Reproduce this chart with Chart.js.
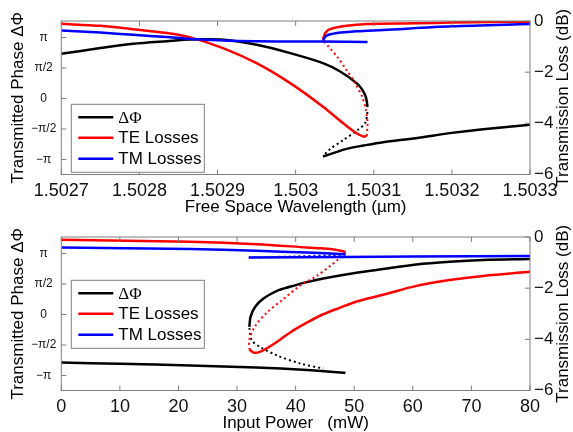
<!DOCTYPE html>
<html>
<head>
<meta charset="utf-8">
<script src="https://cdn.jsdelivr.net/npm/chart.js@4/dist/chart.umd.min.js"></script>
<style>
body { margin: 0; background: #fff; }
#wrap { position: relative; width: 573px; height: 432px; }
canvas { position: absolute; left: 0; }
</style>
</head>
<body>
<div id="wrap">
<canvas id="top" width="573" height="216" style="top:0"></canvas>
<canvas id="bottom" width="573" height="216" style="top:216px"></canvas>
</div>
<script>
// tick labels
const PHASE_TICKS = [-1, -0.5, 0, 0.5, 1];           // units of pi
const PHASE_LABELS = ['\u2212\u03c0', '\u2212\u03c0/2', '0', '\u03c0/2', '\u03c0'];
const LOSS_TICKS = [-6, -4, -2, 0];
const WL_TICKS = [1.5027, 1.5028, 1.5029, 1.503, 1.5031, 1.5032, 1.5033];
const POWER_TICKS = [0, 10, 20, 30, 40, 50, 60, 70, 80];
const LEGEND_LABELS = ['\u0394\u03a6', 'TE Losses', 'TM Losses'];

// ---- top panel: vs free space wavelength (um) ----
// phase (units of pi)
const wlPhiUpper = [1.5027, 1.50275, 1.502792, 1.502835, 1.502865, 1.502908, 1.50295, 1.502993, 1.503035, 1.503057, 1.503078, 1.503085, 1.50309, 1.503092];
const phiUpper   = [0.733, 0.826, 0.897, 0.94, 0.966, 0.962, 0.88, 0.744, 0.58, 0.443, 0.252, 0.15, 0.02, -0.14];
const wlPhiDot   = [1.503092, 1.503089, 1.50308, 1.503061, 1.503044, 1.503035];
const phiDot     = [-0.22, -0.40, -0.51, -0.68, -0.83, -0.94];
const wlPhiLower = [1.503035, 1.503048, 1.503065, 1.503087, 1.503112, 1.503154, 1.503197, 1.50324, 1.5033];
const phiLower   = [-0.95, -0.895, -0.825, -0.77, -0.715, -0.65, -0.567, -0.502, -0.43];
// TE losses (dB)
const wlTeMain  = [1.5027, 1.50275, 1.502792, 1.502835, 1.502865, 1.502907, 1.50295, 1.502993, 1.503035, 1.503061, 1.503078, 1.503087, 1.503091];
const teMain    = [-0.11, -0.19, -0.32, -0.47, -0.64, -1.06, -1.65, -2.43, -3.35, -4.0, -4.39, -4.52, -4.49];
const wlTeDot   = [1.503091, 1.503092, 1.50309, 1.503085, 1.503076, 1.503065, 1.503053, 1.503042, 1.503035];
const teDot     = [-4.49, -4.0, -3.48, -2.95, -2.43, -1.91, -1.39, -1.0, -0.76];
const wlTeUpper = [1.503035, 1.503038, 1.503044, 1.503065, 1.503091, 1.503154, 1.5032, 1.5033];
const teUpper   = [-0.71, -0.47, -0.32, -0.19, -0.12, -0.09, -0.06, -0.03];
// TM losses (dB)
const wlTmMain  = [1.5027, 1.50275, 1.502792, 1.502835, 1.502865, 1.502907, 1.50295, 1.503, 1.503035, 1.503092];
const tmMain    = [-0.37, -0.45, -0.54, -0.63, -0.70, -0.76, -0.79, -0.80, -0.80, -0.82];
const wlTmUpper = [1.503035, 1.503039, 1.503053, 1.503078, 1.503112, 1.5032, 1.5033];
const tmUpper   = [-0.76, -0.58, -0.47, -0.40, -0.35, -0.21, -0.12];

// ---- bottom panel: vs input power (mW) ----
const pPhiLower = [0, 10, 22, 33.3, 41.9, 48.5];
const phiLowerP = [-0.787, -0.807, -0.836, -0.869, -0.91, -0.956];
const pPhiDot   = [32.1, 32.5, 33.9, 36.8, 40.7, 44.7];
const phiDotP   = [-0.22, -0.42, -0.53, -0.67, -0.80, -0.885];
const pPhiUpper = [32.1, 32.3, 33.1, 34.5, 36.8, 39.0, 41.9, 44.7, 50.4, 54.9, 60.6, 66.3, 72.0, 80];
const phiUpperP = [-0.202, -0.038, 0.126, 0.262, 0.389, 0.454, 0.531, 0.59, 0.684, 0.744, 0.82, 0.864, 0.892, 0.908];
const pTeUpper  = [0, 22, 33.3, 41.9, 45.9, 48.1, 48.5];
const teUpperP  = [-0.11, -0.19, -0.28, -0.41, -0.47, -0.56, -0.61];
const pTeDot    = [48.5, 47.3, 45.9, 43.6, 40.7, 37.9, 35.1, 33.1, 32.1, 32.1];
const teDotP    = [-0.61, -0.87, -1.13, -1.52, -1.91, -2.43, -2.95, -3.48, -4.0, -4.39];
const pTeLower  = [32.1, 32.8, 33.9, 36.2, 39.0, 41.9, 44.7, 47.6, 50.4, 54.9, 60.6, 66.3, 72.0, 80];
const teLowerP  = [-4.39, -4.52, -4.49, -4.19, -3.74, -3.35, -3.02, -2.76, -2.52, -2.26, -1.91, -1.68, -1.52, -1.36];
const pTmUpper  = [0, 22, 33.3, 41.9, 48.5];
const tmUpperP  = [-0.41, -0.47, -0.54, -0.61, -0.67];
const pTmDot    = [48.5, 40, 32];
const tmDotP    = [-0.69, -0.76, -0.80];
const pTmLower  = [32.0, 48.5, 60, 80];
const tmLowerP  = [-0.80, -0.78, -0.76, -0.74];

Chart.defaults.font.family = '"Liberation Sans", Arial, sans-serif';
Chart.defaults.color = '#111';

const BLACK = '#000000', RED = '#ff0000', BLUE = '#0000ff';

function pts(xs, ys) {
    return xs.map((x, i) => ({ x: x, y: ys[i] }));
}

function line(xs, ys, color, axis, dotted, order) {
    return {
        data: pts(xs, ys),
        borderColor: color,
        borderWidth: dotted ? 2 : 2.5,
        borderDash: dotted ? [2, 3] : [],
        pointRadius: 0,
        tension: 0.3,
        yAxisID: axis,
        order: order,
        fill: false
    };
}

// box, inward ticks, right title and legend
const frame = {
    id: 'frame',
    afterDatasetsDraw(chart, args, opts) {
        const { ctx, chartArea: a, scales } = chart;
        const t = 5;
        ctx.save();
        ctx.strokeStyle = '#7f7f7f';
        ctx.lineWidth = 1;
        ctx.strokeRect(a.left, a.top, a.right - a.left, a.bottom - a.top);
        ctx.beginPath();
        scales.x.ticks.forEach(tk => {
            const px = scales.x.getPixelForValue(tk.value);
            ctx.moveTo(px, a.bottom); ctx.lineTo(px, a.bottom - t);
            ctx.moveTo(px, a.top); ctx.lineTo(px, a.top + t);
        });
        scales.y.ticks.forEach(tk => {
            const py = scales.y.getPixelForValue(tk.value);
            ctx.moveTo(a.left, py); ctx.lineTo(a.left + t, py);
        });
        scales.y1.ticks.forEach(tk => {
            const py = scales.y1.getPixelForValue(tk.value);
            ctx.moveTo(a.right, py); ctx.lineTo(a.right - t, py);
        });
        ctx.stroke();

        // right axis title, reading bottom to top
        ctx.fillStyle = '#000';
        ctx.font = '17px "Liberation Sans", Arial, sans-serif';
        ctx.textAlign = 'center';
        ctx.textBaseline = 'middle';
        ctx.translate(563, (a.top + a.bottom) / 2);
        ctx.rotate(-Math.PI / 2);
        ctx.fillText('Transmission Loss (dB)', 0, 0);
        ctx.restore();

        // legend
        const lx = a.left + opts.dx, ly = a.top + opts.dy, lw = 133, lh = 68;
        ctx.save();
        ctx.fillStyle = '#fff';
        ctx.fillRect(lx, ly, lw, lh);
        ctx.strokeStyle = '#7f7f7f';
        ctx.lineWidth = 1;
        ctx.strokeRect(lx, ly, lw, lh);
        const colors = [BLACK, RED, BLUE];
        const rows = [13, 33.5, 54.5];
        LEGEND_LABELS.forEach((lab, i) => {
            const y = ly + rows[i];
            ctx.strokeStyle = colors[i];
            ctx.lineWidth = 2.5;
            ctx.beginPath();
            ctx.moveTo(lx + 7, y); ctx.lineTo(lx + 42, y);
            ctx.stroke();
            ctx.fillStyle = '#000';
            ctx.font = i === 0 ? '17px "Liberation Serif", "Times New Roman", serif'
                               : '17px "Liberation Sans", Arial, sans-serif';
            ctx.textAlign = 'left';
            ctx.textBaseline = 'middle';
            ctx.fillText(lab, lx + 47, y + 1);
        });
        ctx.restore();
    }
};

function makeChart(id, datasets, xMin, xMax, xTicks, xTitle, xFmt, legendDy) {
    return new Chart(document.getElementById(id), {
        type: 'line',
        data: { datasets: datasets },
        options: {
            responsive: false,
            animation: false,
            devicePixelRatio: 1,
            layout: { padding: { top: 21, left: 0, right: 0, bottom: 0 } },
            plugins: {
                legend: { display: false },
                tooltip: { enabled: false },
                frame: { dx: 10, dy: legendDy }
            },
            scales: {
                x: {
                    type: 'linear',
                    min: xMin,
                    max: xMax,
                    afterBuildTicks: s => { s.ticks = xTicks.map(v => ({ value: v })); },
                    afterFit: s => { s.height = 41.5; },
                    grid: { display: false, drawTicks: false },
                    border: { display: false },
                    ticks: {
                        font: { size: 18 },
                        padding: 6,
                        maxRotation: 0,
                        autoSkip: false,
                        callback: xFmt
                    },
                    title: {
                        display: true,
                        text: xTitle,
                        color: '#000',
                        font: { size: 17, lineHeight: 1 },
                        padding: { top: 0, bottom: 0 }
                    }
                },
                y: {
                    position: 'left',
                    min: -1.245,
                    max: 1.27,
                    afterBuildTicks: s => { s.ticks = PHASE_TICKS.map(v => ({ value: v })); },
                    afterFit: s => { s.width = 61.3; },
                    grid: { display: false, drawTicks: false },
                    border: { display: false },
                    ticks: {
                        font: { size: 12 },
                        crossAlign: 'center',
                        padding: 5,
                        callback: (v, i) => PHASE_LABELS[i]
                    },
                    title: {
                        display: true,
                        text: 'Transmitted Phase \u0394\u03a6',
                        color: '#000',
                        font: { size: 17, lineHeight: 1 },
                        padding: { top: 10, bottom: 0 }
                    }
                },
                y1: {
                    position: 'right',
                    min: -6,
                    max: 0,
                    afterBuildTicks: s => { s.ticks = LOSS_TICKS.map(v => ({ value: v })); },
                    afterFit: s => { s.width = 43; },
                    grid: { display: false, drawTicks: false },
                    border: { display: false },
                    ticks: {
                        font: { size: 17 },
                        padding: 4,
                        callback: v => v < 0 ? '\u2212' + Math.abs(v) : String(v)
                    }
                }
            }
        },
        plugins: [frame]
    });
}

makeChart('top', [
    line(wlPhiUpper, phiUpper, BLACK, 'y', false, 3),
    line(wlPhiDot, phiDot, BLACK, 'y', true, 3),
    line(wlPhiLower, phiLower, BLACK, 'y', false, 3),
    line(wlTeMain, teMain, RED, 'y1', false, 2),
    line(wlTeDot, teDot, RED, 'y1', true, 2),
    line(wlTeUpper, teUpper, RED, 'y1', false, 2),
    line(wlTmMain, tmMain, BLUE, 'y1', false, 1),
    line(wlTmUpper, tmUpper, BLUE, 'y1', false, 1)
], 1.5027, 1.5033, WL_TICKS, 'Free Space Wavelength (\u00b5m)',
   v => parseFloat(v.toFixed(4)).toString(), 83.3);

makeChart('bottom', [
    line(pPhiLower, phiLowerP, BLACK, 'y', false, 3),
    line(pPhiDot, phiDotP, BLACK, 'y', true, 3),
    line(pPhiUpper, phiUpperP, BLACK, 'y', false, 3),
    line(pTeUpper, teUpperP, RED, 'y1', false, 2),
    line(pTeDot, teDotP, RED, 'y1', true, 2),
    line(pTeLower, teLowerP, RED, 'y1', false, 2),
    line(pTmUpper, tmUpperP, BLUE, 'y1', false, 1),
    line(pTmDot, tmDotP, BLUE, 'y1', true, 1),
    line(pTmLower, tmLowerP, BLUE, 'y1', false, 1)
], 0, 80, POWER_TICKS, 'Input Power   (mW)', v => String(v), 43.3);
</script>
</body>
</html>
